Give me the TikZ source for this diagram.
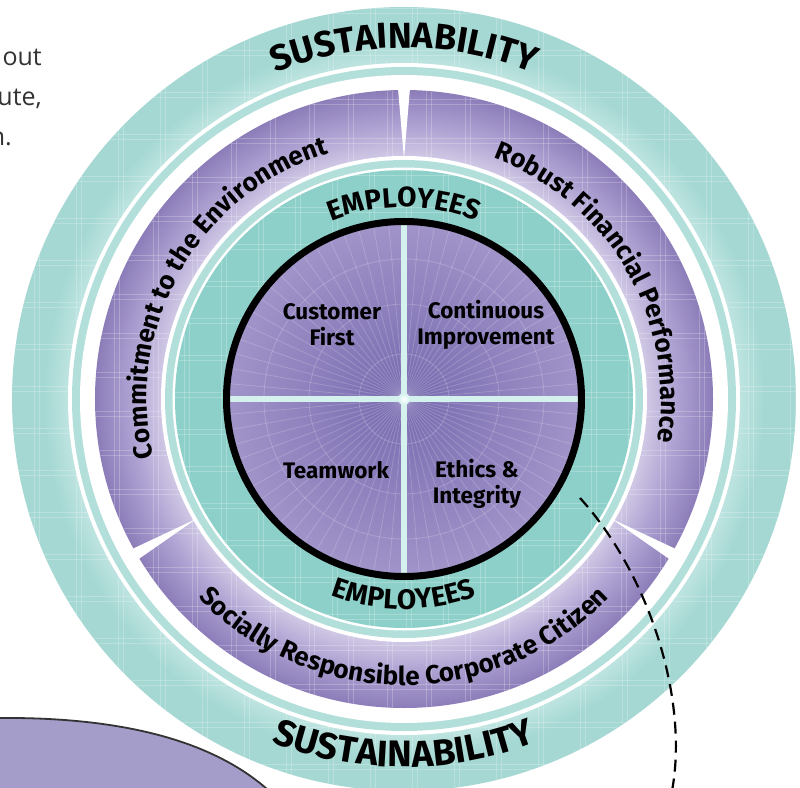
\documentclass[tikz,border=0pt]{standalone}
\usepackage{fontspec}
\usepackage{xcolor}
\usepackage{tikz}
\usetikzlibrary{decorations.text}
\newfontfamily\dinfont{Fira Sans}
\newfontfamily\bodyfont{Open Sans}
\definecolor{tealout}{HTML}{A5D8D3}
\definecolor{tealpale}{HTML}{BEE4E0}
\definecolor{tealthin}{HTML}{B3DFDB}
\definecolor{tealmid}{HTML}{8DD0C9}
\definecolor{purpdark}{HTML}{8C7DB9}
\definecolor{purpmid}{HTML}{AFA3D3}
\definecolor{purplight}{HTML}{CFC7E4}
\definecolor{coredark}{HTML}{776AAF}
\definecolor{corelight}{HTML}{A194C9}
\definecolor{crossc}{HTML}{D4F1EE}
\definecolor{blobc}{HTML}{A49DC9}
% the path bounding box maps onto +-25bp
\pgfdeclareradialshading{tealring}{\pgfpoint{0bp}{0bp}}{color(0bp)=(tealpale); color(21.4bp)=(tealpale); color(23bp)=(tealout); color(25bp)=(tealout); color(50bp)=(tealout)}
\pgfdeclareradialshading{purpring}{\pgfpoint{0bp}{0bp}}{color(0bp)=(purplight); color(19.7bp)=(purplight); color(22bp)=(purpmid); color(25bp)=(purpdark); color(50bp)=(purpdark)}
\pgfdeclareradialshading{corefill}{\pgfpoint{0bp}{0bp}}{color(0bp)=(coredark); color(25bp)=(corelight); color(50bp)=(corelight)}
\tikzset{
  gridline/.style={white,opacity=.22,line width=.7pt},
  ringtext/.style={decorate,decoration={text along path,text align=center,text={#1}}},
  corelabel/.style={align=center,inner sep=0pt,font=\dinfont\bfseries\fontsize{22.5}{26}\selectfont},
  bodytext/.style={anchor=base east,inner sep=0pt,text=black!80,font=\bodyfont\fontsize{25}{25}\selectfont}
}

\begin{document}
\begin{tikzpicture}[x=1pt,y=1pt]
\useasboundingbox (-404,-388) rectangle (396,399);
% cut-off paragraph on the left
\node[bodytext] (bodya) at (-362,333) {out};
\node[bodytext] (bodyb) at (-362,293) {ute,};
\node[bodytext] (bodyc) at (-392,253) {n.};

% outer sustainability band
\shade[shading=tealring] (0,0) circle (392);
\begin{scope}
  \clip (0,0) circle (392);
  \foreach \v in {-370,-328,...,390} {
    \draw[gridline] (\v,-400) -- (\v,400) (\v+5,-400) -- (\v+5,400);
    \draw[gridline] (-400,\v) -- (400,\v) (-400,\v+5) -- (400,\v+5);
  }
\end{scope}
\fill[white] (0,0) circle (336);
\fill[tealthin] (0,0) circle (332);
\fill[white] (0,0) circle (324);

% purple band with three segments
\shade[shading=purpring] (0,0) circle (309);
\begin{scope}
  \clip (0,0) circle (309);
  \foreach \v in {-290,-251,...,300} {
    \draw[gridline] (\v,-320) -- (\v,320) (\v+5,-320) -- (\v+5,320);
    \draw[gridline] (-320,\v) -- (320,\v) (-320,\v+5) -- (320,\v+5);
  }
\end{scope}
\foreach \a in {90,210,330}
  \fill[white] (\a-1.1:310) -- (\a+1.1:310) -- (\a:240) -- cycle;
\fill[white] (0,0) circle (243);

% employees band
\fill[tealthin] (0,0) circle (239);
\fill[white] (0,0) circle (231.5);
\fill[tealmid] (0,0) circle (229);
\begin{scope}
  \clip (0,0) circle (229);
  \foreach \v in {-220,-183,...,230} {
    \draw[gridline] (\v,-240) -- (\v,240) (\v+5,-240) -- (\v+5,240);
    \draw[gridline] (-240,\v) -- (240,\v) (-240,\v+5) -- (240,\v+5);
  }
\end{scope}

% core with four values
\shade[shading=corefill] (0,0) circle (177);
\foreach \a in {0,5,...,355}
  \draw[white,opacity=.18,line width=.8pt] (0,0) -- (\a:176);
\foreach \r in {45,95,140}
  \draw[white,opacity=.2,line width=.8pt] (0,0) circle (\r);
\draw[crossc,line width=6pt] (0,-176) -- (0,176);
\draw[crossc,line width=6pt] (-176,0) -- (176,0);
\fill[crossc] (0,16) .. controls (2,2) .. (16,0) .. controls (2,-2) .. (0,-16)
  .. controls (-2,-2) .. (-16,0) .. controls (-2,2) .. cycle;
\shade[inner color=white,outer color=crossc] (0,0) circle (6);
\draw[black,line width=7pt] (0,0) circle (177.5);

\node[corelabel] (custfirst) at (-72,74) {Customer\\First};
\node[corelabel] (contimp) at (82,74) {Continuous\\Improvement};
\node[corelabel] (teamwork) at (-68,-71) {Teamwork};
\node[corelabel] (ethics) at (73,-85) {Ethics \&\\Integrity};

% curved ring labels
\path[ringtext={|\dinfont\bfseries\fontsize{36}{36}\selectfont|SUSTAINABILITY}]
  (150:351) arc[start angle=150,end angle=30,radius=351];
\path[ringtext={|\dinfont\bfseries\fontsize{37}{37}\selectfont|SUSTAINABILITY}]
  (200:368) arc[start angle=200,end angle=340,radius=368];
\path[ringtext={|\dinfont\bfseries\fontsize{26}{26}\selectfont|Commitment to the Environment}]
  (215:257) arc[start angle=215,end angle=85,radius=257];
\path[ringtext={|\dinfont\bfseries\fontsize{26}{26}\selectfont|Robust Financial Performance}]
  (95:257) arc[start angle=95,end angle=-35,radius=257];
\path[ringtext={|\dinfont\bfseries\fontsize{26}{26}\selectfont|Socially Responsible Corporate Citizen}]
  (200:286) arc[start angle=200,end angle=340,radius=286];
\path[ringtext={|\dinfont\bfseries\fontsize{28}{28}\selectfont|EMPLOYEES}]
  (150:192) arc[start angle=150,end angle=30,radius=192];
\path[ringtext={|\dinfont\bfseries\fontsize{28}{28}\selectfont|EMPLOYEES}]
  (200:210) arc[start angle=200,end angle=340,radius=210];

% dashed leader and the shape below
\coordinate (dashs) at (176,-99);
\coordinate (dashe) at (268,-392);
\draw[black,line width=2.2pt,dash pattern=on 12pt off 7pt] (dashs) .. controls (245,-175) and (285,-300) .. (dashe);
\coordinate (blobl) at (-406,-319);
\coordinate (blobr) at (-137,-390);
\fill[blobc] (blobl) .. controls (-300,-318) and (-200,-335) .. (blobr) -- (-406,-390) -- cycle;
\draw[black!80,line width=1.8pt] (blobl) .. controls (-300,-318) and (-200,-335) .. (blobr);
\end{tikzpicture}
\end{document}
